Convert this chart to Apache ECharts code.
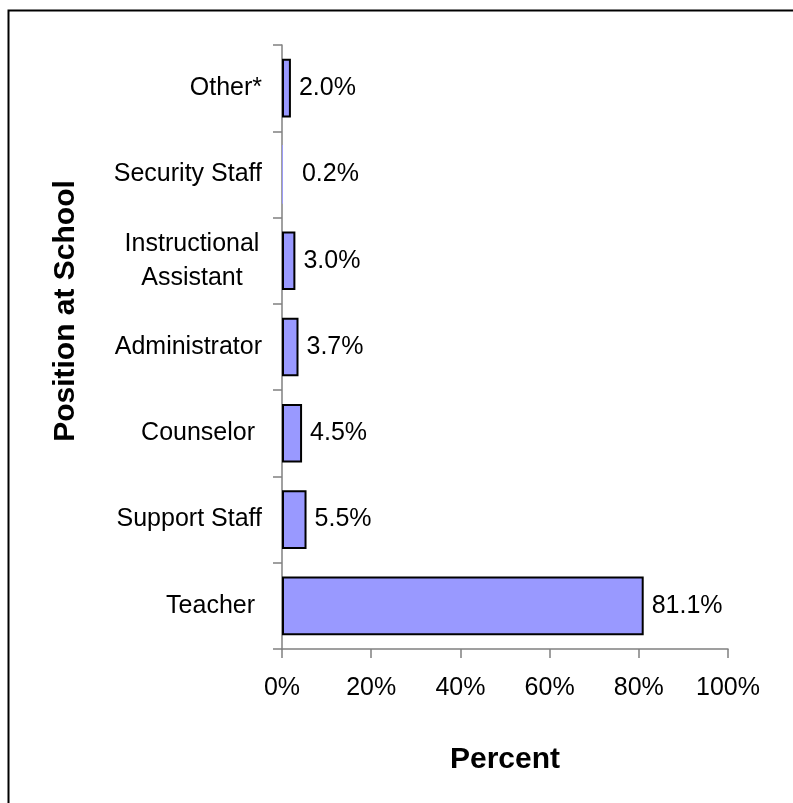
<!DOCTYPE html>
<html>
<head>
<meta charset="utf-8">
<script src="https://cdn.jsdelivr.net/npm/echarts@6/dist/echarts.min.js"></script>
<style>
html,body{margin:0;padding:0;background:#fff;}
#chart{width:793px;height:803px;}
</style>
</head>
<body>
<div id="chart"></div>
<script>
const categories = ['Teacher ', 'Support Staff', 'Counselor ', 'Administrator', 'Instructional\nAssistant', 'Security Staff', 'Other*'];
const values = [81.1, 5.5, 4.5, 3.7, 3.0, 0.2, 2.0];
const xTicks = [0, 20, 40, 60, 80, 100];
const xTitle = 'Percent';
const yTitle = 'Position at School';

const FONT = '"Liberation Sans", Arial, sans-serif';
const FS = 25;
const chart = echarts.init(document.getElementById('chart'), null, {renderer: 'canvas'});

const seriesData = values.map((v, i) => {
  const item = {value: v};
  if (v < 1) {
    item.label = {distance: 19};
    item.itemStyle = {borderWidth: 0};
  }
  return item;
});

chart.setOption({
  animation: false,
  backgroundColor: '#fff',
  grid: {left: 282, right: 65, top: 45, bottom: 154, containLabel: false},
  xAxis: {
    type: 'value',
    min: xTicks[0],
    max: xTicks[xTicks.length - 1],
    interval: 20,
    splitLine: {show: false},
    axisLine: {show: true, lineStyle: {color: '#808080', width: 1.5}},
    axisTick: {show: true, length: 9, lineStyle: {color: '#808080', width: 1.5}},
    axisLabel: {
      color: '#000', fontFamily: FONT, fontSize: FS, margin: 27,
      formatter: v => v + '%'
    }
  },
  yAxis: {
    type: 'category',
    data: categories,
    axisLine: {show: true, lineStyle: {color: '#808080', width: 1.5}},
    axisTick: {show: true, length: 9, alignWithLabel: false, lineStyle: {color: '#808080', width: 1.5}},
    axisLabel: {
      color: '#000', fontFamily: FONT, fontSize: FS, margin: 20, align: 'right',
      formatter: function (v) {
        if (v.indexOf('\n') >= 0) {
          return v.split('\n').map(s => '{c|' + s + '}').join('\n');
        }
        return v;
      },
      rich: {
        c: {width: 140, align: 'center', fontFamily: FONT, fontSize: FS, color: '#000', lineHeight: 34}
      }
    }
  },
  series: [{
    type: 'bar',
    data: seriesData,
    barCategoryGap: '32%',
    itemStyle: {color: '#9999FF', borderColor: '#000', borderWidth: 2},
    label: {
      show: true, position: 'right', distance: 8,
      color: '#000', fontFamily: FONT, fontSize: FS,
      formatter: p => p.value.toFixed(1) + '%'
    }
  }],
  graphic: [
    {type: 'polyline', shape: {points: [[8.5, 803], [8.5, 10.5], [793, 10.5]]}, style: {stroke: '#000', lineWidth: 2, fill: null}},
    {type: 'text', x: 505, y: 760, style: {text: xTitle, font: 'bold 30px ' + FONT, fill: '#000', align: 'center', verticalAlign: 'middle'}},
    {type: 'text', x: 66, y: 311, rotation: Math.PI / 2, style: {text: yTitle, font: 'bold 30px ' + FONT, fill: '#000', align: 'center', verticalAlign: 'middle'}}
  ]
});
</script>
</body>
</html>
